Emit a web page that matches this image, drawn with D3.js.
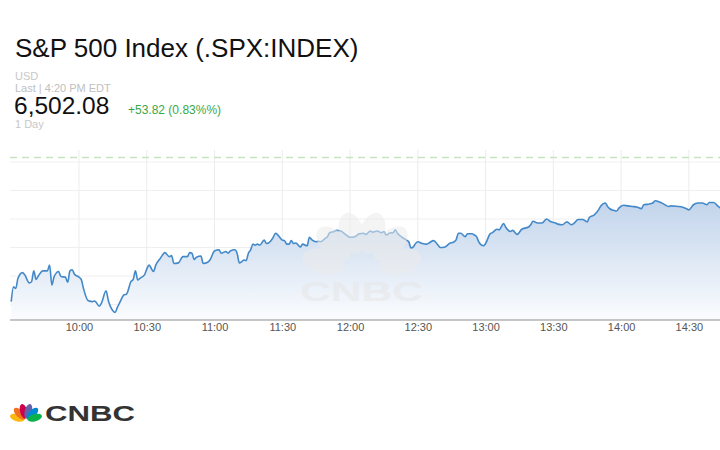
<!DOCTYPE html>
<html><head><meta charset="utf-8">
<script src="https://cdn.jsdelivr.net/npm/d3@7"></script>
<style>
html,body{margin:0;padding:0;background:#fff;}
svg{display:block;font-family:"Liberation Sans",Arial,sans-serif;}
</style></head>
<body>
<svg id="chart" width="720" height="450"></svg>
<script>
const title = "S&P 500 Index (.SPX:INDEX)";
const currency = "USD";
const lastLabel = "Last | 4:20 PM EDT";
const lastPrice = "6,502.08";
const changeLabel = "+53.82 (0.83%%)";
const rangeLabel = "1 Day";
const refLevel = 6475.8;
const gridValues = [6450, 6455, 6460, 6465, 6470, 6475];
const tickLabels = ["10:00","10:30","11:00","11:30","12:00","12:30","13:00","13:30","14:00","14:30"];
const times = ["09:30","09:31","09:32","09:33","09:35","09:36","09:38","09:39","09:40","09:41","09:42","09:44","09:46","09:47","09:48","09:49","09:51","09:52","09:54","09:55","09:56","09:57","09:58",
"10:00","10:01","10:02","10:04","10:06","10:07","10:09","10:10","10:12","10:13","10:15","10:16","10:17","10:18","10:20","10:21","10:23","10:24","10:25","10:26","10:27","10:29",
"10:30","10:31","10:33","10:34","10:36","10:37","10:38","10:40","10:41","10:42","10:44","10:46","10:48","10:49","10:50","10:51","10:52","10:54","10:55","10:57","10:58",
"11:00","11:02","11:03","11:05","11:06","11:07","11:09","11:10","11:11","11:12","11:13","11:14","11:15","11:16","11:17","11:18","11:19","11:20","11:22","11:23","11:25","11:26","11:27","11:28",
"11:30","11:31","11:32","11:33","11:34","11:35","11:36","11:38","11:39","11:41","11:42","11:43","11:45","11:46","11:47","11:49","11:50","11:51","11:53","11:54","11:56","11:57","11:59",
"12:00","12:02","12:03","12:04","12:06","12:07","12:09","12:10","12:12","12:14","12:15","12:16","12:18","12:19","12:20","12:21","12:23","12:25","12:26","12:27","12:28","12:29",
"12:30","12:32","12:34","12:35","12:37","12:39","12:40","12:42","12:44","12:46","12:47","12:48","12:49","12:51","12:52","12:54","12:55","12:56","12:57","12:59",
"13:00","13:02","13:03","13:05","13:06","13:08","13:09","13:11","13:12","13:14","13:16","13:19","13:20","13:21","13:23","13:25","13:27","13:29",
"13:31","13:32","13:34","13:36","13:38","13:39","13:41","13:43","13:45","13:46","13:48","13:50","13:51","13:53","13:54","13:55","13:57","13:58","13:59",
"14:01","14:03","14:05","14:07","14:09","14:10","14:12","14:14","14:15","14:17","14:19","14:21","14:22","14:25","14:27","14:29",
"14:30","14:32","14:34","14:36","14:38","14:39","14:41","14:43","14:44"];
const prices = [6450.5,6453.1,6452.8,6454.6,6455.6,6455.2,6453.8,6454.0,6455.9,6454.4,6455.0,6455.9,6455.9,6456.9,6453.4,6454.9,6455.8,6454.9,6454.8,6453.9,6455.9,6456.1,6455.3,
6454.8,6454.4,6452.8,6450.7,6450.5,6450.6,6449.7,6450.3,6452.4,6450.7,6448.9,6448.6,6449.5,6450.3,6451.7,6451.8,6454.0,6454.4,6455.9,6454.3,6454.6,6455.2,
6456.2,6456.9,6455.8,6456.9,6458.1,6458.7,6459.1,6458.4,6458.6,6457.2,6457.3,6458.4,6458.4,6459.1,6459.0,6457.9,6458.3,6458.5,6457.2,6457.4,6457.8,
6459.4,6459.6,6459.0,6459.3,6459.0,6459.4,6459.6,6459.0,6457.3,6457.5,6457.8,6457.7,6459.0,6459.6,6460.6,6460.4,6460.6,6460.4,6461.3,6460.7,6461.2,6461.8,6462.5,6462.2,
6461.3,6461.2,6460.6,6460.6,6461.2,6460.7,6460.8,6460.1,6460.6,6460.3,6461.8,6461.4,6461.0,6461.1,6461.0,6461.6,6461.9,6462.6,6462.8,6463.0,6462.9,6462.6,6462.0,
6461.8,6461.9,6462.1,6462.4,6462.5,6462.3,6462.9,6462.7,6462.9,6462.6,6462.8,6462.2,6462.6,6462.6,6463.1,6462.5,6461.8,6461.3,6461.0,6459.9,6460.1,6460.7,
6461.0,6460.7,6460.6,6460.8,6461.2,6460.4,6460.0,6460.1,6460.7,6461.0,6461.4,6462.5,6462.5,6461.9,6462.4,6462.4,6462.2,6461.9,6461.0,6460.3,
6460.7,6462.4,6462.6,6463.2,6463.1,6464.2,6463.5,6462.8,6463.0,6462.3,6463.2,6463.6,6464.0,6464.6,6464.3,6464.3,6465.0,6464.5,
6464.3,6464.1,6464.0,6464.5,6464.0,6464.2,6464.9,6464.9,6464.5,6465.3,6465.7,6466.6,6467.3,6467.8,6467.2,6466.8,6466.5,6466.4,6466.9,
6467.4,6467.3,6467.2,6467.1,6466.8,6467.5,6467.6,6467.8,6468.2,6468.0,6467.6,6467.2,6467.3,6467.2,6467.1,6466.8,
6466.6,6467.5,6467.8,6467.8,6467.5,6467.9,6467.9,6467.2,6466.9];
const peacockColors = ["#fcb711","#f37021","#cc004c","#6460aa","#0089d0","#0db14b"];

const parse = d3.timeParse("%H:%M");
const data = times.map((t,i)=>({t:parse(t), v:prices[i]}));

const svg = d3.select("#chart");
const x = d3.scaleTime().domain([parse("09:30"), parse("14:44")]).range([11.2, 720.5]);
const y = d3.scaleLinear().domain([6475, 6450]).range([162, 304.5]);
const plotLeft = 10, plotRight = 720, plotTop = 150, plotBottom = 320;

// header
svg.append("text").attr("x",15).attr("y",57).attr("font-size",26).attr("fill","#111").text(title);
svg.append("text").attr("x",15).attr("y",79.5).attr("font-size",11).attr("fill","#c8c8c8").text(currency);
svg.append("text").attr("x",15).attr("y",91.5).attr("font-size",11).attr("fill","#c0c0c0").text(lastLabel);
svg.append("text").attr("x",14).attr("y",114).attr("font-size",24.5).attr("fill","#111").text(lastPrice);
svg.append("text").attr("x",128).attr("y",114).attr("font-size",12).attr("fill","#3aa845").text(changeLabel);
svg.append("text").attr("x",15).attr("y",128).attr("font-size",11).attr("fill","#c8c8c8").text(rangeLabel);

// gradient
const defs = svg.append("defs");
const grad = defs.append("linearGradient").attr("id","fillGrad").attr("gradientUnits","userSpaceOnUse")
  .attr("x1",0).attr("x2",0).attr("y1",plotTop).attr("y2",plotBottom);
grad.append("stop").attr("offset","0%").attr("stop-color","#a9c3e3");
grad.append("stop").attr("offset","100%").attr("stop-color","#fbfcfe");
defs.append("clipPath").attr("id","plotClip").append("rect")
  .attr("x",plotLeft).attr("y",plotTop).attr("width",plotRight-plotLeft).attr("height",plotBottom-plotTop);

// grid
const g = svg.append("g");
g.selectAll("line.h").data(gridValues).join("line")
  .attr("x1",plotLeft).attr("x2",plotRight).attr("y1",d=>y(d)).attr("y2",d=>y(d))
  .attr("stroke","#efefef").attr("stroke-width",1);
const tickDates = tickLabels.map(parse);
g.selectAll("line.v").data(tickDates).join("line")
  .attr("x1",d=>x(d)).attr("x2",d=>x(d)).attr("y1",plotTop).attr("y2",plotBottom)
  .attr("stroke","#ececec").attr("stroke-width",1);

// area + line
const plot = svg.append("g").attr("clip-path","url(#plotClip)");
const area = d3.area().x(d=>x(d.t)).y0(plotBottom).y1(d=>y(d.v)).curve(d3.curveMonotoneX);
const line = d3.line().x(d=>x(d.t)).y(d=>y(d.v)).curve(d3.curveMonotoneX);
plot.append("path").datum(data).attr("d",area).attr("fill","url(#fillGrad)");

// watermark
const wm = svg.append("g").attr("opacity",0.55);
const wmBase = [362, 272];
const angles = [-75,-45,-15,15,45,75];
wm.selectAll("ellipse").data(angles).join("ellipse")
  .attr("cx",0).attr("cy",-40).attr("rx",12.5).attr("ry",21)
  .attr("transform",a=>`translate(${wmBase[0]},${wmBase[1]}) rotate(${a})`)
  .attr("fill","#ececec");
wm.append("text").attr("x",300).attr("y",301).attr("font-size",28).attr("font-weight","bold")
  .attr("textLength",123).attr("lengthAdjust","spacingAndGlyphs").attr("fill","#e6e6e6").text("CNBC");

plot.append("path").datum(data).attr("d",line).attr("fill","none")
  .attr("stroke","#4389c9").attr("stroke-width",1.6).attr("stroke-linejoin","round");

// reference dashed line
svg.append("line").attr("x1",plotLeft).attr("x2",plotRight).attr("y1",y(refLevel)).attr("y2",y(refLevel))
  .attr("stroke","#c6e4c0").attr("stroke-width",1.5).attr("stroke-dasharray","7,5");

// axis
const axis = d3.axisBottom(x).tickValues(tickDates).tickFormat(d3.timeFormat("%H:%M")).tickSize(0).tickPadding(3);
const ax = svg.append("g").attr("transform",`translate(0,${plotBottom})`).call(axis);
ax.select(".domain").remove();
ax.selectAll("text").attr("font-size",11).attr("fill","#555").attr("font-family","Liberation Sans, Arial, sans-serif");
svg.append("line").attr("x1",plotLeft).attr("x2",plotRight).attr("y1",plotBottom).attr("y2",plotBottom)
  .attr("stroke","#b3b3b3").attr("stroke-width",1.5);

// bottom logo
const lg = svg.append("g").attr("transform","translate(26,420)");
lg.selectAll("ellipse").data(angles).join("ellipse")
  .attr("cx",0).attr("cy",-9).attr("rx",3.6).attr("ry",7.5)
  .attr("transform",a=>`rotate(${a})`)
  .attr("fill",(d,i)=>peacockColors[i]);
svg.append("text").attr("x",45).attr("y",420.5).attr("font-size",22).attr("font-weight","bold")
  .attr("textLength",90).attr("lengthAdjust","spacingAndGlyphs").attr("fill","#333").text("CNBC");
</script>
</body></html>
